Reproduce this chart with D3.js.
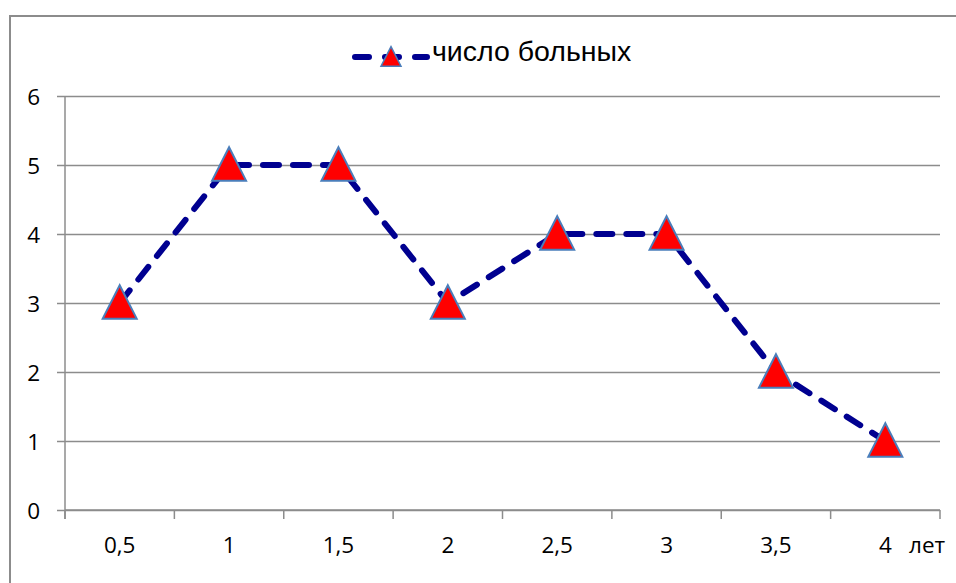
<!DOCTYPE html>
<html>
<head>
<meta charset="utf-8">
<script src="https://cdn.jsdelivr.net/npm/d3@7"></script>
<style>
  html, body { margin: 0; padding: 0; background: #fff; }
  svg { display: block; }
</style>
</head>
<body>
<svg id="chart" width="956" height="583"></svg>
<script>
// Age groups (years) and number of patients in each
const categories = ["0,5", "1", "1,5", "2", "2,5", "3", "3,5", "4"];
const patients = [3, 5, 5, 3, 4, 4, 2, 1];
const yTicks = [0, 1, 2, 3, 4, 5, 6];
const seriesName = "число больных";
const xAxisTitle = "лет";

const svg = d3.select("#chart");
const W = 956, H = 583;
const plot = { left: 65, right: 940, top: 96, bottom: 510 };

const tickFont = "'Open Sans', Lato, sans-serif";
const tickSize = 22.5;

// Outer frame
svg.append("rect")
  .attr("x", 10).attr("y", 16)
  .attr("width", W + 10).attr("height", H + 10)
  .attr("fill", "none").attr("stroke", "#8c8c8c").attr("stroke-width", 2);

const x = d3.scaleBand().domain(categories).range([plot.left, plot.right]).padding(0);
const y = d3.scaleLinear().domain([0, 6]).range([plot.bottom, plot.top]);

// Horizontal gridlines with short outside ticks
const yAxis = d3.axisLeft(y)
  .tickValues(yTicks)
  .tickFormat(d3.format("d"))
  .tickSize(-(plot.right - plot.left))
  .tickSizeOuter(0)
  .tickPadding(0);
const gy = svg.append("g").attr("transform", `translate(${plot.left},0)`).call(yAxis);
gy.select(".domain").remove();
gy.selectAll(".tick line")
  .attr("x1", -8)
  .attr("stroke", "#8c8c8c").attr("stroke-width", 1.5);
gy.selectAll(".tick text")
  .attr("x", -25)
  .attr("y", 8)
  .attr("dy", null)
  .attr("text-anchor", "end")
  .attr("font-family", tickFont).attr("font-size", tickSize).attr("fill", "#000");

// Vertical value axis line
svg.append("line")
  .attr("x1", plot.left).attr("x2", plot.left)
  .attr("y1", plot.top).attr("y2", plot.bottom + 9)
  .attr("stroke", "#8c8c8c").attr("stroke-width", 1.5);

// Category axis: tick marks at band boundaries, labels at band centers
const gx = svg.append("g").attr("transform", `translate(0,${plot.bottom})`);
gx.append("line")
  .attr("x1", plot.left).attr("x2", plot.right)
  .attr("stroke", "#8c8c8c").attr("stroke-width", 1.5);
const boundaries = categories.map(c => x(c)).concat([x(categories[categories.length - 1]) + x.bandwidth()]);
gx.selectAll("line.tk").data(boundaries).join("line")
  .attr("class", "tk")
  .attr("x1", d => d).attr("x2", d => d)
  .attr("y1", 0).attr("y2", 9)
  .attr("stroke", "#8c8c8c").attr("stroke-width", 1.5);
gx.selectAll("text.lbl").data(categories).join("text")
  .attr("class", "lbl")
  .attr("x", d => x(d) + x.bandwidth() / 2)
  .attr("y", 43)
  .attr("text-anchor", "middle")
  .attr("font-family", tickFont).attr("font-size", tickSize).attr("fill", "#000")
  .text(d => d);

// Axis title at the right end
svg.append("text")
  .attr("x", 909).attr("y", plot.bottom + 43)
  .attr("font-family", tickFont).attr("font-size", tickSize).attr("fill", "#000")
  .text(xAxisTitle);

const cx = d => x(d) + x.bandwidth() / 2;

// Dashed series line
const line = d3.line().x(d => cx(d.c)).y(d => y(d.v));
const points = categories.map((c, i) => ({ c, v: patients[i] }));
const lineColor = "#000090";
svg.append("path")
  .datum(points)
  .attr("d", line)
  .attr("fill", "none")
  .attr("stroke", lineColor)
  .attr("stroke-width", 6)
  .attr("stroke-linecap", "round")
  .attr("stroke-linejoin", "round")
  .attr("stroke-dasharray", "16 14");

// Triangle markers
const tri = (s) => `M0,${-s * 0.52}L${s / 2},${s * 0.46}L${-s / 2},${s * 0.46}Z`;
svg.selectAll("path.marker").data(points).join("path")
  .attr("class", "marker")
  .attr("transform", d => `translate(${cx(d.c)},${y(d.v)})`)
  .attr("d", tri(34))
  .attr("fill", "#ff0000")
  .attr("stroke", "#4a7ebb")
  .attr("stroke-width", 2)
  .attr("stroke-linejoin", "miter");

// Legend
const lg = svg.append("g").attr("transform", "translate(355,57)");
lg.append("path")
  .attr("d", "M0,0H72")
  .attr("stroke", lineColor).attr("stroke-width", 6)
  .attr("stroke-linecap", "round")
  .attr("stroke-dasharray", "14 16");
lg.append("path")
  .attr("transform", "translate(36,0)")
  .attr("d", tri(20))
  .attr("fill", "#ff0000")
  .attr("stroke", "#4a7ebb")
  .attr("stroke-width", 1.5);
lg.append("text")
  .attr("x", 77).attr("y", 4)
  .attr("font-family", "'Liberation Sans', Arial, sans-serif")
  .attr("font-size", 28.5)
  .attr("fill", "#000")
  .text(seriesName);
</script>
</body>
</html>
